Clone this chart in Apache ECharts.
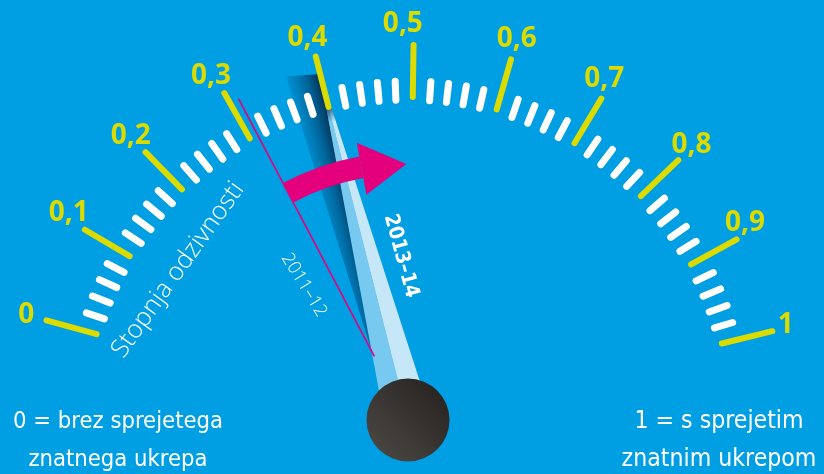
<!DOCTYPE html>
<html><head><meta charset="utf-8">
<script src="https://cdn.jsdelivr.net/npm/echarts@6/dist/echarts.min.js"></script>
<style>html,body{margin:0;padding:0;background:#009ee2}#c{width:824px;height:474px}</style>
</head><body><div id="c"></div>
<script>
// ---- data ----
const scaleMin = 0;
const scaleMax = 1;
const tickLabels = ['0', '0,1', '0,2', '0,3', '0,4', '0,5', '0,6', '0,7', '0,8', '0,9', '1'];
const periods = ['2011–12', '2013–14'];
const responseValues = [0.31, 0.40];
const arrowFrom = 0.31;
const arrowHeadBase = 0.425;
const axisTitle = 'Stopnja odzivnosti';
const endNotes = ['0 = brez sprejetega\nznatnega ukrepa', '1 = s sprejetim\nznatnim ukrepom'];

// ---- style ----
const LABEL_FONT = "'Open Sans', sans-serif";
const NOTE_FONT = "'DejaVu Sans Condensed', 'Open Sans', sans-serif";
const LIGHT_FONT = "'Open Sans', sans-serif";
const BG = '#009ee2', YELLOW = '#dcdb00', MAGENTA = '#e4007d';
const T = 'rgba(0,0,0,0)';
const splitNumber = tickLabels.length - 1;
// small per-label nudges [dx, dy] in px (label placement style)
const labelNudge = [[0,0],[2,-6],[0,-1],[-3,1],[-3,2],[-11,0],[0,0],[-8,-2],[-2,0],[-10,-6],[-7,-1]];

const mctx = document.createElement('canvas').getContext('2d');
function fitFont(text, weight, family, targetWidth) {
  mctx.font = weight + ' 100px ' + family;
  let w = 0;
  text.split('\n').forEach(function (l) { w = Math.max(w, mctx.measureText(l).width); });
  return Math.round(1000 * targetWidth / w) / 10;
}

const common = {
  type: 'gauge', center: [408, 420], radius: 375,
  startAngle: 164.6, endAngle: 13.7, min: scaleMin, max: scaleMax, splitNumber: splitNumber,
  axisLine: { show: false, lineStyle: { width: 0 } },
  splitLine: { show: false }, axisTick: { show: false }, axisLabel: { show: false },
  pointer: { show: false }, anchor: { show: false }, title: { show: false },
  detail: { show: false }, progress: { show: false }, animation: false, silent: true
};
function S(o) { return Object.assign({}, common, o); }

// tick colors: white minor ticks, transparent at major positions
const tickColors = [];
for (let k = 0; k < splitNumber; k++) {
  tickColors.push([k / splitNumber + 0.0005, T]);
  tickColors.push([(k + 1) / splitNumber - 0.0005, '#ffffff']);
}
tickColors.push([1, T]);

const labelRich = {};
labelNudge.forEach(function (d, i) {
  labelRich['l' + i] = {
    fontSize: 28, fontWeight: 'bold', fontFamily: LABEL_FONT, color: YELLOW,
    padding: [d[1] > 0 ? 2 * d[1] : 0, d[0] < 0 ? -2 * d[0] : 0, d[1] < 0 ? -2 * d[1] : 0, d[0] > 0 ? 2 * d[0] : 0]
  };
});

const needleLeft = { type: 'linear', x: 0, y: 0, x2: 0, y2: 1, colorStops: [
  { offset: 0, color: '#0b3452' }, { offset: 0.1, color: '#0e3f62' },
  { offset: 0.15, color: '#78c9f0' }, { offset: 1, color: '#78c9f0' }] };
const needleRight = { type: 'linear', x: 0, y: 0, x2: 0, y2: 1, colorStops: [
  { offset: 0, color: '#0b3452' }, { offset: 0.1, color: '#0e3f62' },
  { offset: 0.15, color: '#c6e7f8' }, { offset: 1, color: '#c6e7f8' }] };
const shadowFill = { type: 'linear', x: 0, y: 0, x2: 1, y2: 0, colorStops: [
  { offset: 0, color: 'rgba(0,60,110,0.12)' }, { offset: 0.55, color: 'rgba(0,45,85,0.5)' },
  { offset: 1, color: 'rgba(5,35,65,0.92)' }] };

const noteSizeL = fitFont(endNotes[0], 'normal', NOTE_FONT, 210);
const noteSizeR = fitFont(endNotes[1], 'normal', NOTE_FONT, 195);
const titleSize = fitFont(axisTitle, '300', LIGHT_FONT, 209);
const p0Size = fitFont(periods[0], '300', LIGHT_FONT, 71);
const p1Size = fitFont(periods[1], 'bold', NOTE_FONT, 86);

const option = {
  backgroundColor: BG,
  series: [
    // shadow of current needle
    S({ data: [{ value: responseValues[1] }],
        pointer: { show: true, icon: 'path://M0,0 L34,6 L16,291 Z', width: 34, length: 291,
                   offsetCenter: [-17, -72], itemStyle: { color: shadowFill } } }),
    // current needle, left half
    S({ data: [{ value: responseValues[1] }],
        pointer: { show: true, icon: 'path://M1,0 L1,10 L0,10 Z', width: 23.2, length: 362,
                   offsetCenter: [-11.6, 0], itemStyle: { color: needleLeft } } }),
    // current needle, right half
    S({ data: [{ value: responseValues[1] }],
        pointer: { show: true, icon: 'path://M0,0 L1,10 L0,10 Z', width: 23.2, length: 362,
                   offsetCenter: [11.6, 0], itemStyle: { color: needleRight } } }),
    // minor ticks
    S({ data: [],
        axisLine: { show: false, lineStyle: { width: 0, color: tickColors } },
        axisTick: { show: true, splitNumber: 5, length: 19, distance: 36,
                    lineStyle: { color: 'auto', width: 7, cap: 'round' } } }),
    // major ticks + labels
    S({ data: [],
        splitLine: { show: true, length: 52, distance: 0,
                     lineStyle: { color: YELLOW, width: 6, cap: 'round' } },
        axisLabel: { show: true, distance: -73, rotate: 360, color: YELLOW,
                     fontSize: 28, fontWeight: 'bold', fontFamily: LABEL_FONT, rich: labelRich,
                     formatter: function (v) {
                       const i = Math.round((v - scaleMin) / (scaleMax - scaleMin) * splitNumber);
                       return '{l' + i + '|' + tickLabels[i] + '}';
                     } } }),
    // previous needle (2011-12)
    S({ data: [{ value: responseValues[0] }],
        pointer: { show: true, icon: 'rect', width: 1.6, length: 291, offsetCenter: [0, -72],
                   itemStyle: { color: MAGENTA } } }),
    // arrow shaft
    S({ radius: 268, data: [],
        axisLine: { show: true, lineStyle: { width: 22,
          color: [[arrowFrom, T], [arrowHeadBase, MAGENTA], [1, T]] } } }),
    // arrow head + pivot
    S({ data: [{ value: arrowHeadBase }],
        pointer: { show: true, icon: 'path://M0,0 L44.8,30 L0,53 Z', width: 44.8, length: 53,
                   offsetCenter: [22.4, -229], itemStyle: { color: MAGENTA } },
        anchor: { show: true, showAbove: true, size: 83, icon: 'circle',
                  itemStyle: { color: { type: 'linear', x: 0, y: 1, x2: 1, y2: 0, colorStops: [
                    { offset: 0, color: '#4f4b47' }, { offset: 1, color: '#221f1d' }] } } } })
  ],
  graphic: [
    { type: 'text', x: 178, y: 270, rotation: 54.5 * Math.PI / 180, silent: true,
      style: { text: axisTitle, fill: '#ffffff', fontSize: titleSize, fontWeight: 300, fontFamily: LIGHT_FONT,
               align: 'center', verticalAlign: 'middle', textAlign: 'center', textVerticalAlign: 'middle' } },
    { type: 'text', x: 304, y: 285, rotation: -58.5 * Math.PI / 180, silent: true,
      style: { text: periods[0], fill: '#ffffff', fontSize: p0Size, fontWeight: 300, fontFamily: LIGHT_FONT,
               align: 'center', verticalAlign: 'middle', textAlign: 'center', textVerticalAlign: 'middle' } },
    { type: 'text', x: 401, y: 256, rotation: -74.7 * Math.PI / 180, silent: true,
      style: { text: periods[1], fill: '#ffffff', fontSize: p1Size, fontWeight: 'bold', fontFamily: NOTE_FONT,
               align: 'center', verticalAlign: 'middle', textAlign: 'center', textVerticalAlign: 'middle' } },
    { type: 'text', x: 118, y: 441, silent: true,
      style: { text: endNotes[0], fill: '#ffffff', fontSize: noteSizeL, lineHeight: 38, fontFamily: NOTE_FONT,
               align: 'center', verticalAlign: 'middle', textAlign: 'center', textVerticalAlign: 'middle' } },
    { type: 'text', x: 719, y: 441, silent: true,
      style: { text: endNotes[1], fill: '#ffffff', fontSize: noteSizeR, lineHeight: 38, fontFamily: NOTE_FONT,
               align: 'center', verticalAlign: 'middle', textAlign: 'center', textVerticalAlign: 'middle' } }
  ]
};
const chart = echarts.init(document.getElementById('c'), null, { renderer: 'canvas' });
chart.setOption(option);
</script></body></html>
